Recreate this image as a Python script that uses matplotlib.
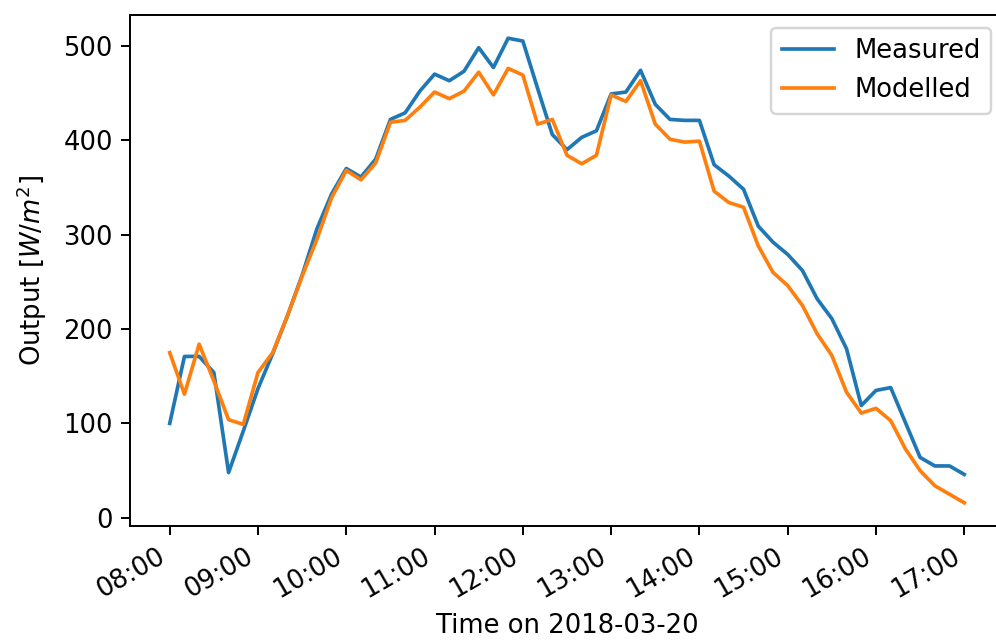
import numpy as np
import pandas as pd
import matplotlib
matplotlib.use('Agg')
import matplotlib.pyplot as plt
import matplotlib.dates as mdates

# 10 minute samples, 08:00 - 17:00
times = pd.date_range('2018-03-20 08:00', '2018-03-20 17:00', freq='10min')

measured = [100, 171, 171, 154, 48, 92, 137, 174, 214, 257,
            306, 343, 370, 361, 380, 422, 429, 452, 470, 463,
            473, 498, 477, 508, 505, 455, 406, 390, 403, 410,
            449, 451, 474, 438, 422, 421, 421, 374, 362, 348,
            309, 292, 279, 262, 232, 211, 179, 119, 135, 138,
            101, 64, 55, 55, 46]

modelled = [175, 131, 184, 145, 104, 99, 154, 175, 214, 256,
            295, 339, 368, 358, 376, 419, 421, 435, 451, 444,
            452, 472, 448, 476, 469, 417, 422, 384, 375, 384,
            448, 441, 463, 417, 401, 398, 399, 346, 334, 329,
            288, 260, 246, 225, 195, 172, 133, 111, 116, 103,
            73, 50, 34, 25, 16]

plt.rcParams['font.size'] = 10.6

dpi = 176
fig = plt.figure(figsize=(996 / dpi, 640 / dpi), dpi=dpi)
# axes runs slightly past the right edge, like the cropped original
ax = fig.add_axes([130 / 996, 1 - 526 / 640, (1004 - 130) / 996, (526 - 15) / 640])

ax.plot(times, measured, label='Measured')
ax.plot(times, modelled, label='Modelled')

ax.xaxis.set_major_locator(mdates.HourLocator())
ax.xaxis.set_major_formatter(mdates.DateFormatter('%H:%M'))
for lbl in ax.get_xticklabels():
    lbl.set_rotation(30)
    lbl.set_ha('right')
ax.spines['right'].set_visible(False)

ax.set_xlabel('Time on 2018-03-20')
ax.set_ylabel('Output [$W/m^2$]', labelpad=6)
ax.legend(loc='upper right')

fig.savefig('out.png', dpi=dpi)
